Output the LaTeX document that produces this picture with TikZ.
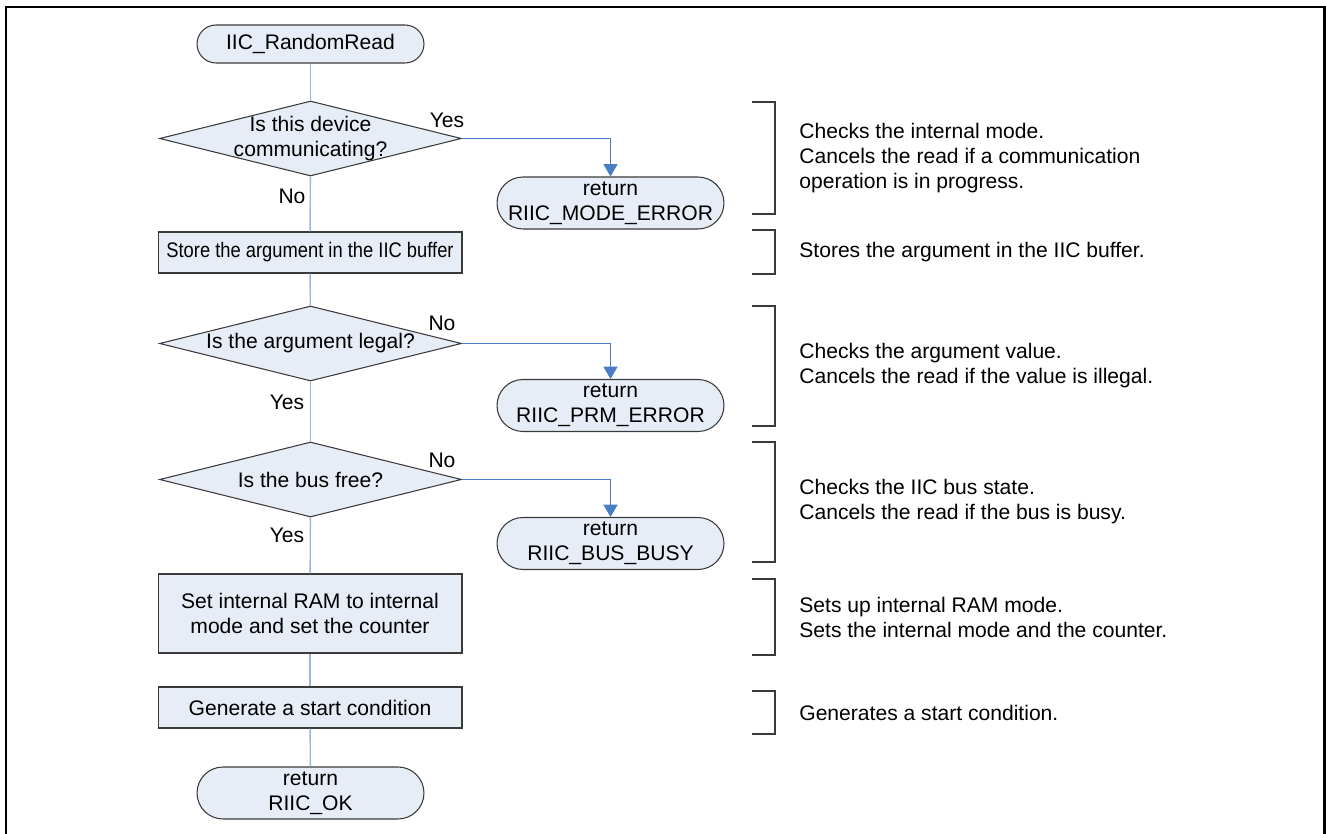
\documentclass[tikz,border=0pt]{standalone}
\usepackage{fontspec}
\setmainfont{Liberation Sans}
\usetikzlibrary{arrows.meta,shapes.geometric}
\definecolor{boxfill}{HTML}{E7EDF7}
\definecolor{flowblue}{HTML}{9AB6DF}
\definecolor{armblue}{HTML}{4A7EC4}
\definecolor{edgegray}{HTML}{3A3A3A}
\tikzset{
  shapebase/.style={draw=edgegray, line width=0.6pt, fill=boxfill, inner sep=0pt, align=center},
  startstyle/.style={shapebase, rectangle, rounded corners=0.38cm, minimum width=4.54cm, minimum height=0.76cm},
  termstyle/.style={shapebase, rectangle, rounded corners=0.52cm, minimum width=4.54cm, minimum height=1.04cm},
  procstyle/.style={shapebase, rectangle, minimum width=6.08cm, minimum height=0.82cm},
  decstyle/.style={shapebase, diamond, minimum width=6.04cm, minimum height=1.5cm},
  flowline/.style={draw=flowblue, line width=0.8pt},
  branchline/.style={draw=armblue, line width=0.7pt, -{Triangle[width=8pt,length=7pt]}, to path={-| (\tikztotarget)}},
  bracketline/.style={draw=edgegray, line width=0.6pt},
  notestyle/.style={anchor=west, align=left, inner sep=0pt}
}

\begin{document}
\begin{tikzpicture}[x=0.02cm, y=-0.02cm, font=\fontsize{12pt}{14.2pt}\selectfont]
    \useasboundingbox (0,0) rectangle (1326,834);
    \draw[line width=1.4pt] (6,834) -- (6,7) -- (1324.5,7) -- (1324.5,834);
    % ---------------------
    \draw
    (310.5,44) node[startstyle] (st) {IIC\_RandomRead}
    (310.5,138.5) node[decstyle, label={[align=center]center:Is this device\\communicating?}] (dec1) {}
    (310,252.5) node[procstyle] (box1) {\scalebox{0.87}[1]{Store the argument in the IIC buffer}}
    (310.5,343.5) node[decstyle, label={center:Is the argument legal?}] (dec2) {}
    (310.5,479.5) node[decstyle, label={center:Is the bus free?}] (dec3) {}
    (310,613.5) node[procstyle, minimum height=1.58cm] (box2) {Set internal RAM to internal\\mode and set the counter}
    (310,707.5) node[procstyle] (box3) {Generate a start condition}
    (310.5,793) node[termstyle] (ret4) {return\\RIIC\_OK};
    % ---------------------
    \draw
    (610.5,203) node[termstyle] (ret1) {return\\RIIC\_MODE\_ERROR}
    (610.5,405.5) node[termstyle] (ret2) {return\\RIIC\_PRM\_ERROR}
    (610.5,543.5) node[termstyle] (ret3) {return\\RIIC\_BUS\_BUSY};
    % ---------------------
    \draw
    (447,120) node (yes1) {Yes}
    (292,196) node (no1) {No}
    (442,323) node (no2) {No}
    (287,402) node (yes2) {Yes}
    (442,460) node (no3) {No}
    (287,535) node (yes3) {Yes};
    % ---------------------
    \draw
    (st) edge[flowline] (dec1)
    (dec1) edge[flowline] (box1)
    (box1) edge[flowline] (dec2)
    (dec2) edge[flowline] (dec3)
    (dec3) edge[flowline] (box2)
    (box2) edge[flowline] (box3)
    (box3) edge[flowline] (ret4)
    (dec1) edge[branchline] (ret1)
    (dec2) edge[branchline] (ret2)
    (dec3) edge[branchline] (ret3);
    % ---------------------
    \draw[bracketline] (752,102) -- (775,102) -- (775,214) -- (752,214);
    \draw[bracketline] (752,230) -- (775,230) -- (775,274) -- (752,274);
    \draw[bracketline] (752,306) -- (775,306) -- (775,426) -- (752,426);
    \draw[bracketline] (752,442) -- (775,442) -- (775,562) -- (752,562);
    \draw[bracketline] (752,579) -- (775,579) -- (775,655) -- (752,655);
    \draw[bracketline] (752,691) -- (775,691) -- (775,734) -- (752,734);
    % ---------------------
    \draw
    (799,158) node[notestyle] (note1) {Checks the internal mode.\\Cancels the read if a communication\\operation is in progress.}
    (799,252) node[notestyle] (note2) {Stores the argument in the IIC buffer.}
    (799,366) node[notestyle] (note3) {Checks the argument value.\\Cancels the read if the value is illegal.}
    (799,502) node[notestyle] (note4) {Checks the IIC bus state.\\Cancels the read if the bus is busy.}
    (799,617) node[notestyle] (note5) {Sets up internal RAM mode.\\Sets the internal mode and the counter.}
    (799,712.5) node[notestyle] (note6) {Generates a start condition.};
\end{tikzpicture}
\end{document}
